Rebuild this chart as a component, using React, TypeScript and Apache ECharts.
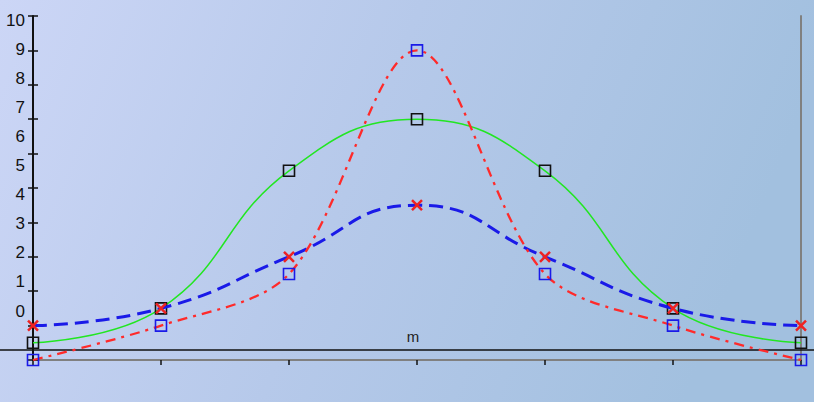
import React, { useEffect, useRef } from "react";
import * as echarts from "echarts";

const categories = ["0", "1", "2", "3", "4", "5", "6"];
const greenValues = [0.5, 1.5, 5.5, 7, 5.5, 1.5, 0.5];
const blueValues = [1, 1.5, 3, 4.5, 3, 1.5, 1];
const redValues = [0, 1, 2.5, 9, 2.5, 1, 0];
const yTickLabels = ["0", "1", "2", "3", "4", "5", "6", "7", "8", "9", "10"];
const axisName = "m";

const X_PATH = "path://M0,0L10,10M10,0L0,10";

export default function App() {
  const ref = useRef<HTMLDivElement>(null);
  useEffect(() => {
    if (!ref.current) return;
    const chart = echarts.init(ref.current, null, { renderer: "svg" });
    const font = "'Liberation Sans', Arial, sans-serif";
    chart.setOption({
      animation: false,
      backgroundColor: {
        type: "linear",
        x: 0,
        y: 0,
        x2: 1,
        y2: 0.2,
        colorStops: [
          { offset: 0, color: "#ccd6f6" },
          { offset: 0.5, color: "#b6c9ea" },
          { offset: 1, color: "#a2c0df" },
        ],
      },
      grid: [
        { left: 33, right: 13, top: 16, bottom: 42, show: false },
        { left: 33, right: 13, top: 20, bottom: 91, show: false },
        { left: 0, right: 0, top: 350, bottom: 50, show: false },
      ],
      xAxis: [
        {
          gridIndex: 0,
          type: "category",
          data: categories,
          boundaryGap: false,
          position: "bottom",
          axisLine: { show: true, lineStyle: { color: "#111", width: 1.6 } },
          axisTick: { show: true, inside: false, length: 5, interval: 0, lineStyle: { color: "#111", width: 1.5 } },
          axisLabel: { show: false },
          splitLine: { show: false },
        },
        {
          gridIndex: 0,
          type: "category",
          data: categories,
          boundaryGap: false,
          position: "top",
          axisLine: { show: true, lineStyle: { color: "#808080", width: 2 } },
          axisTick: { show: false },
          axisLabel: { show: false },
          splitLine: { show: false },
        },
        { gridIndex: 1, type: "value", show: false },
        {
          gridIndex: 2,
          type: "value",
          min: 0,
          max: 1,
          position: "top",
          axisLine: { show: true, onZero: false, lineStyle: { color: "#111", width: 1.5 } },
          axisTick: { show: false },
          axisLabel: { show: false },
          splitLine: { show: false },
          name: axisName,
          nameLocation: "middle",
          nameGap: 6,
          nameTextStyle: { fontFamily: font, fontSize: 15, color: "#222", padding: [0, 0, 0, 12] },
        },
      ],
      yAxis: [
        {
          gridIndex: 0,
          type: "value",
          min: 0,
          max: 10,
          interval: 1,
          position: "left",
          axisLine: { show: true, lineStyle: { color: "#111", width: 2 } },
          axisTick: { show: true, inside: false, length: 5, lineStyle: { color: "#111", width: 1.5 } },
          axisLabel: { show: false },
          splitLine: { show: false },
        },
        {
          gridIndex: 0,
          type: "value",
          min: 0,
          max: 10,
          interval: 1,
          position: "left",
          axisLine: { show: false },
          axisTick: { show: true, inside: true, length: 5, lineStyle: { color: "#111", width: 1.5 } },
          axisLabel: { show: false },
          splitLine: { show: false },
        },
        {
          gridIndex: 0,
          type: "value",
          min: 0,
          max: 10,
          position: "right",
          axisLine: { show: true, lineStyle: { color: "#808080", width: 2 } },
          axisTick: { show: false },
          axisLabel: { show: false },
          splitLine: { show: false },
        },
        {
          gridIndex: 1,
          type: "category",
          data: yTickLabels,
          boundaryGap: false,
          position: "left",
          axisLine: { show: false },
          axisTick: { show: false },
          axisLabel: { show: true, interval: 0, margin: 8, fontFamily: font, fontSize: 17, color: "#111" },
          splitLine: { show: false },
        },
        { gridIndex: 2, type: "value", show: false },
      ],
      series: [
        {
          type: "line",
          xAxisIndex: 0,
          yAxisIndex: 0,
          data: greenValues,
          smooth: 0.45,
          symbol: "rect",
          symbolSize: 11,
          lineStyle: { color: "#22e622", width: 1.5 },
          itemStyle: { color: "rgba(0,0,0,0)", borderColor: "#111", borderWidth: 1.6 },
          z: 3,
        },
        {
          type: "line",
          xAxisIndex: 0,
          yAxisIndex: 0,
          data: blueValues,
          smooth: 0.5,
          symbol: X_PATH,
          symbolSize: 10,
          lineStyle: { color: "#1a1ae8", width: 3, type: [14, 7] },
          itemStyle: { color: "rgba(0,0,0,0)", borderColor: "#ee2222", borderWidth: 2.5 },
          z: 4,
        },
        {
          type: "line",
          xAxisIndex: 0,
          yAxisIndex: 0,
          data: redValues,
          smooth: 0.32,
          symbol: "rect",
          symbolSize: 11,
          lineStyle: { color: "#ff2a2a", width: 2.3, type: [10, 6, 3, 6] },
          itemStyle: { color: "rgba(0,0,0,0)", borderColor: "#1a1ae8", borderWidth: 1.6 },
          z: 5,
        },
      ],
    });
    return () => chart.dispose();
  }, []);
  return (
    <div
      ref={ref}
      style={{ position: "fixed", left: 0, top: 0, width: 814, height: 402 }}
    />
  );
}
